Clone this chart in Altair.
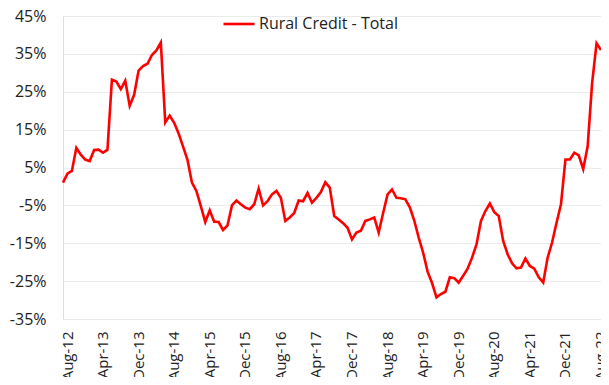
import altair as alt
import pandas as pd

# Monthly series Aug-12 .. Sep-22 (YoY growth, %)
months = pd.date_range("2012-08-01", periods=122, freq="MS").strftime("%b-%y").tolist()
values = [
    1.0, 3.4, 4.1, 10.2, 8.4, 7.1, 6.7, 9.6, 9.7, 8.9,
    9.7, 28.2, 27.7, 25.7, 27.9, 21.3, 24.2, 30.6, 31.8, 32.4,
    34.7, 35.9, 38.0, 16.9, 18.7, 16.8, 14.0, 10.5, 7.0, 1.0,
    -1.2, -5.2, -9.4, -6.3, -9.3, -9.4, -11.5, -10.3, -5.0, -3.7,
    -4.7, -5.6, -6.0, -4.7, -0.6, -5.0, -3.9, -2.1, -1.2, -3.0,
    -9.1, -8.2, -7.0, -3.7, -3.9, -1.7, -4.3, -3.0, -1.5, 1.1,
    -0.3, -7.8, -8.7, -9.7, -10.9, -14.0, -12.2, -11.7, -9.1, -8.7,
    -8.2, -12.2, -7.0, -2.1, -0.8, -3.0, -3.1, -3.4, -5.5, -9.0,
    -13.5, -17.5, -22.5, -25.5, -29.3, -28.4, -27.8, -24.0, -24.2, -25.4,
    -23.6, -21.7, -18.8, -15.3, -9.1, -6.5, -4.5, -6.8, -7.8, -14.4,
    -17.9, -20.3, -21.6, -21.4, -19.0, -21.0, -21.7, -24.0, -25.4, -18.8,
    -14.8, -9.6, -4.7, 7.1, 7.1, 8.9, 8.2, 4.6, 10.6, 27.3,
    37.8, 36.0,
]
series_name = "Rural Credit - Total"
tick_months = months[::8]
y_ticks = [-35, -25, -15, -5, 5, 15, 25, 35, 45]

df = pd.DataFrame({"month": months, "value": values, "series": series_name})

FONT = "Open Sans"

chart = alt.Chart(df).mark_line(strokeWidth=2.6, interpolate="linear").encode(
    x=alt.X(
        "month:O",
        sort=None,
        scale=alt.Scale(type="point", padding=0),
        axis=alt.Axis(
            values=tick_months,
            labelAngle=-90,
            title=None,
            domain=False,
            ticks=False,
            tickSize=0,
            labelPadding=12,
            labelOffset=4,
            grid=False,
            labelFontSize=15,
            labelColor="#222222",
            labelFont=FONT,
        ),
    ),
    y=alt.Y(
        "value:Q",
        scale=alt.Scale(domain=[-35, 45], nice=False, zero=False),
        axis=alt.Axis(
            values=y_ticks,
            labelExpr="datum.value + '%'",
            title=None,
            domain=False,
            ticks=False,
            tickSize=0,
            labelPadding=17,
            grid=True,
            gridColor="#ebebeb",
            gridWidth=1,
            labelFontSize=16,
            labelColor="#222222",
            labelFont=FONT,
        ),
    ),
    color=alt.Color(
        "series:N",
        scale=alt.Scale(range=["#ff0000"]),
        legend=alt.Legend(
            orient="none",
            legendX=159,
            legendY=-9,
            direction="horizontal",
            title=None,
            symbolType="stroke",
            symbolSize=961,
            symbolStrokeWidth=2.6,
            labelFontSize=16,
            labelFont=FONT,
            labelColor="#222222",
            labelOffset=3,
        ),
    ),
).properties(
    width=538,
    height=303,
    autosize=alt.AutoSizeParams(type="none"),
    padding={"left": 55, "top": 8, "right": 0, "bottom": 58},
).configure_view(stroke=None).configure(background="white")

chart.save("out.html", embed_options={"renderer": "svg", "actions": False})
